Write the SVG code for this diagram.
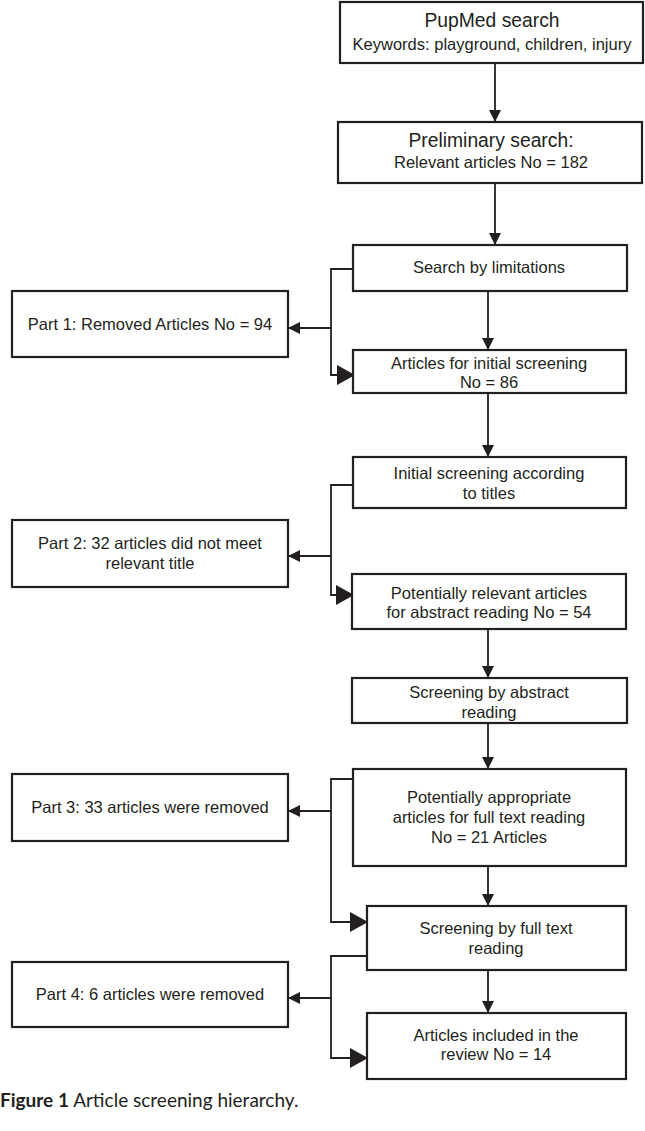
<svg xmlns="http://www.w3.org/2000/svg" width="645" height="1131" viewBox="0 0 645 1131">
<style>
.box{fill:#fff;stroke:#231f20;stroke-width:2.2}
.t{font-family:"Liberation Sans",Arial,sans-serif;font-size:16.5px;fill:#231f20;text-anchor:middle}
.big{font-size:19.3px}
.ln{fill:none;stroke:#231f20;stroke-width:1.8}
.cap{font-family:Lato,"Open Sans",sans-serif;font-size:19px;fill:#231f20}
</style>
<defs>
<marker id="sa" markerUnits="userSpaceOnUse" viewBox="0 0 12 12" markerWidth="12" markerHeight="12" refX="12" refY="6" orient="auto"><path d="M0,0 L12,6 L0,12 z" fill="#231f20"/></marker>
<marker id="ba" markerUnits="userSpaceOnUse" viewBox="0 0 18 20" markerWidth="18" markerHeight="20" refX="18" refY="10" orient="auto"><path d="M0,0 L18,10 L0,20 z" fill="#231f20"/></marker>
</defs>
<rect width="645" height="1131" fill="#fff"/>
<g id="connectors">
<path class="ln" d="M495,63 V122" marker-end="url(#sa)"/>
<path class="ln" d="M495,183 V245" marker-end="url(#sa)"/>
<path class="ln" d="M488,291 V350" marker-end="url(#sa)"/>
<path class="ln" d="M488,393 V457" marker-end="url(#sa)"/>
<path class="ln" d="M488,629 V678" marker-end="url(#sa)"/>
<path class="ln" d="M488,723 V769" marker-end="url(#sa)"/>
<path class="ln" d="M488,866 V906" marker-end="url(#sa)"/>
<path class="ln" d="M488,970 V1013" marker-end="url(#sa)"/>
<path class="ln" d="M353,269 H331 V375 H355" marker-end="url(#ba)"/>
<path class="ln" d="M331,328 H288" marker-end="url(#sa)"/>
<path class="ln" d="M353,485 H331 V595 H354" marker-end="url(#ba)"/>
<path class="ln" d="M331,556 H288" marker-end="url(#sa)"/>
<path class="ln" d="M353,779 H331 V922 H368" marker-end="url(#ba)"/>
<path class="ln" d="M331,811 H288" marker-end="url(#sa)"/>
<path class="ln" d="M367,956 H331 V1058 H368" marker-end="url(#ba)"/>
<path class="ln" d="M331,998 H288" marker-end="url(#sa)"/>
</g>
<g id="n1"><rect class="box" x="340" y="2" width="303" height="61"/><text class="t big" x="492" y="27">PupMed search</text><text class="t" x="492" y="50">Keywords: playground, children, injury</text></g>
<g id="n2"><rect class="box" x="338" y="122" width="304" height="61"/><text class="t big" x="491" y="147">Preliminary search:</text><text class="t" x="491" y="168">Relevant articles No = 182</text></g>
<g id="n3"><rect class="box" x="353" y="245" width="274" height="46"/><text class="t" x="489" y="273">Search by limitations</text></g>
<g id="n4"><rect class="box" x="353" y="350" width="273" height="43"/><text class="t" x="489" y="369">Articles for initial screening</text><text class="t" x="489" y="388">No = 86</text></g>
<g id="p1"><rect class="box" x="12" y="291" width="276" height="66"/><text class="t" x="150" y="330">Part 1: Removed Articles No = 94</text></g>
<g id="n5"><rect class="box" x="353" y="457" width="273" height="51"/><text class="t" x="489" y="479">Initial screening according</text><text class="t" x="489" y="499">to titles</text></g>
<g id="n6"><rect class="box" x="352" y="574" width="274" height="55"/><text class="t" x="489" y="599">Potentially relevant articles</text><text class="t" x="489" y="618">for abstract reading No = 54</text></g>
<g id="p2"><rect class="box" x="12" y="520" width="276" height="67"/><text class="t" x="150" y="549">Part 2: 32 articles did not meet</text><text class="t" x="150" y="569">relevant title</text></g>
<g id="n7"><rect class="box" x="352" y="678" width="275" height="45"/><text class="t" x="489" y="698">Screening by abstract</text><text class="t" x="489" y="718">reading</text></g>
<g id="n8"><rect class="box" x="353" y="769" width="273" height="97"/><text class="t" x="489" y="803">Potentially appropriate</text><text class="t" x="489" y="823">articles for full text reading</text><text class="t" x="489" y="843">No = 21 Articles</text></g>
<g id="p3"><rect class="box" x="12" y="774" width="276" height="67"/><text class="t" x="150" y="813">Part 3: 33 articles were removed</text></g>
<g id="n9"><rect class="box" x="367" y="906" width="259" height="64"/><text class="t" x="496" y="934">Screening by full text</text><text class="t" x="496" y="954">reading</text></g>
<g id="p4"><rect class="box" x="12" y="962" width="276" height="65"/><text class="t" x="150" y="1000">Part 4: 6 articles were removed</text></g>
<g id="n10"><rect class="box" x="367" y="1013" width="259" height="66"/><text class="t" x="496" y="1041">Articles included in the</text><text class="t" x="496" y="1060">review No = 14</text></g>
<g id="caption"><text class="cap" x="0" y="1107"><tspan font-weight="bold">Figure 1</tspan> Article screening hierarchy.</text></g>
</svg>
